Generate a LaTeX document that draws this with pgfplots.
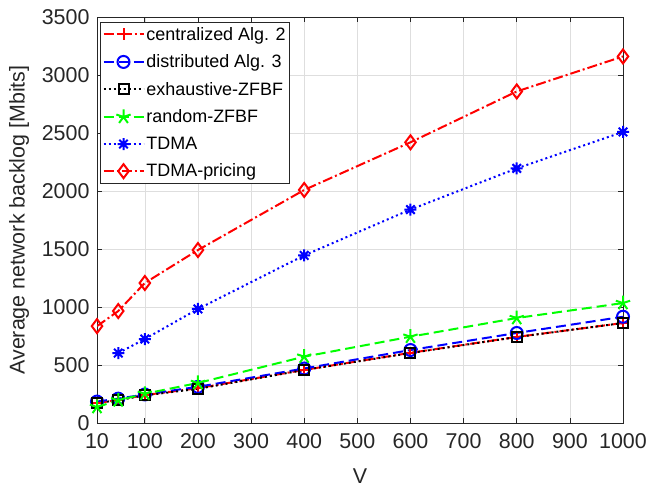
\documentclass[border=0pt]{standalone}
\usepackage{fontspec}
\setmainfont{Liberation Sans}
\usepackage{pgfplots}
\pgfplotsset{compat=1.18}
\pgfdeclareplotmark{ast8}{%
  \pgfpathmoveto{\pgfpointpolar{0}{\pgfplotmarksize}}\pgfpathlineto{\pgfpointpolar{180}{\pgfplotmarksize}}%
  \pgfpathmoveto{\pgfpointpolar{90}{\pgfplotmarksize}}\pgfpathlineto{\pgfpointpolar{270}{\pgfplotmarksize}}%
  \pgfpathmoveto{\pgfpointpolar{45}{\pgfplotmarksize}}\pgfpathlineto{\pgfpointpolar{225}{\pgfplotmarksize}}%
  \pgfpathmoveto{\pgfpointpolar{135}{\pgfplotmarksize}}\pgfpathlineto{\pgfpointpolar{315}{\pgfplotmarksize}}%
  \pgfusepathqstroke}
\definecolor{axgray}{gray}{0.15}
\definecolor{gridgray}{gray}{0.87}
\definecolor{mred}{rgb}{1,0,0}
\definecolor{mblue}{rgb}{0,0,1}
\definecolor{mgreen}{rgb}{0,1,0}
\begin{document}
\begin{tikzpicture}
\begin{axis}[
  scale only axis,
  width=526bp, height=406bp,
  xmin=10, xmax=1000, ymin=0, ymax=3500,
  xtick={10,100,200,300,400,500,600,700,800,900,1000},
  ytick={0,500,1000,1500,2000,2500,3000,3500},
  /pgf/number format/assume math mode=true,
  /pgf/number format/set thousands separator={},
  tick label style={font=\fontsize{21.5}{24}\selectfont, text=axgray},
  x tick label style={yshift=-7bp},
  y tick label style={xshift=-4bp},
  label style={font=\fontsize{21.5}{24}\selectfont, text=axgray},
  xlabel={V}, ylabel={Average network backlog [Mbits]},
  xlabel style={yshift=-13bp},
  ylabel style={yshift=6bp},
  grid=major, major grid style={gridgray, line width=0.6bp},
  axis line style={axgray, line width=0.7bp},
  tick style={axgray, line width=0.7bp},
  tick align=inside, major tick length=5bp,
  legend style={at={(0.006,0.988)}, anchor=north west, font=\fontsize{18}{20}\selectfont,
    draw=axgray, line width=0.7bp, inner xsep=2bp, inner ysep=3bp, row sep=9bp,
    cells={anchor=west}},
  legend image code/.code={\draw[mark repeat=2,mark phase=2,#1] plot coordinates {(0bp,0bp)(20bp,0bp)(40bp,0bp)};},
  every axis plot/.append style={line width=2bp},
]
\addplot[color=mred, dash pattern=on 10bp off 3bp on 2bp off 3bp, mark=+, mark size=6bp, mark options={solid}] coordinates {
(10,172) (50,198) (100,241) (200,300) (400,458) (600,605) (800,742) (1000,862)};
\addlegendentry{centralized Alg. 2}
\addplot[color=mblue, dash pattern=on 10bp off 5bp, mark=o, mark size=6bp, mark options={solid}] coordinates {
(10,185) (50,210) (100,246) (200,312) (400,470) (600,629) (800,776) (1000,916)};
\addlegendentry{distributed Alg. 3}
\addplot[color=black, dash pattern=on 2bp off 3bp, mark=square, mark size=5bp, mark options={solid}] coordinates {
(10,172) (50,197) (100,238) (200,295) (400,457) (600,603) (800,741) (1000,862)};
\addlegendentry{exhaustive-ZFBF}
\addplot[color=mgreen, dash pattern=on 10bp off 5bp, mark=star, mark size=7.5bp, mark options={solid, fill=mgreen}] coordinates {
(10,138) (50,195) (100,252) (200,345) (400,572) (600,744) (800,905) (1000,1034)};
\addlegendentry{random-ZFBF}
\addplot[color=mblue, dash pattern=on 2bp off 3bp, mark=ast8, mark size=6bp, mark options={solid}] coordinates {
(50,603) (100,724) (200,983) (400,1445) (600,1840) (800,2195) (1000,2509)};
\addlegendentry{TDMA}
\addplot[color=mred, dash pattern=on 10bp off 3bp on 2bp off 3bp, mark=diamond, mark size=7bp, mark options={solid}] coordinates {
(10,835) (50,965) (100,1207) (200,1491) (400,2009) (600,2420) (800,2858) (1000,3160)};
\addlegendentry{TDMA-pricing}
\end{axis}
\pgfresetboundingbox
\useasboundingbox ([xshift=-97bp,yshift=-64bp]current axis.south west) rectangle ([xshift=38bp,yshift=17bp]current axis.north east);
\end{tikzpicture}
\end{document}
